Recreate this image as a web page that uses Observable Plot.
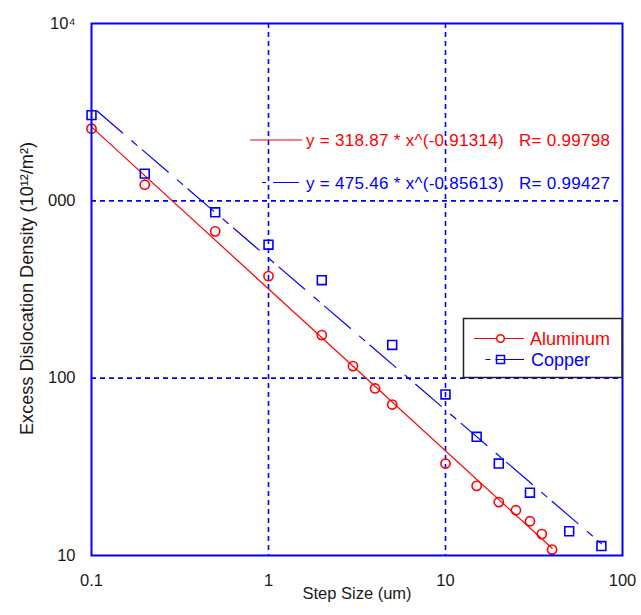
<!DOCTYPE html>
<html>
<head>
<meta charset="utf-8">
<script src="https://cdn.jsdelivr.net/npm/d3@7"></script>
<script src="https://cdn.jsdelivr.net/npm/@observablehq/plot@0.6"></script>
<style>
  html, body { margin: 0; padding: 0; background: #fff; }
  #chart { width: 641px; height: 615px; }
</style>
</head>
<body>
<div id="chart"></div>
<script>
// ---- data ----
const aluminumX = [0.1, 0.2, 0.5, 1, 2, 3, 4, 5, 10, 15, 20, 25, 30, 35, 40];
const aluminumY = [2552, 1233, 673, 376, 175, 117, 87.5, 71, 33, 24.7, 20, 18, 15.6, 13.2, 10.8];
const copperX = [0.1, 0.2, 0.5, 1, 2, 5, 10, 15, 20, 30, 50, 76];
const copperY = [3043, 1424, 862, 566, 357, 154, 81, 46.7, 33, 22.6, 13.7, 11.3];

// power-law fits shown on the chart: y = a * x^b over the data's x range
const fitNames = ["Aluminum", "Copper"];
const fitA = [318.87, 475.46];
const fitB = [-0.91314, -0.85613];
const fitR = ["0.99798", "0.99427"];
const fitXRange = [[0.1, 40], [0.1, 76]];

const xTicks = [0.1, 1, 10, 100];
const xTickLabels = ["0.1", "1", "10", "100"];
const yTicks = [10, 100, 1000, 10000];
const yTickLabels = ["10", "100", "000", "10\u2074"];
const xGrid = [1, 10];
const yGrid = [100, 1000];

const xTitle = "Step Size (um)";
const yTitle = "Excess Dislocation Density (10\u00B9\u00B2/m\u00B2)";

const RED = "#ff0000";
const BLUE = "#0000ff";
const FONT = "'Liberation Sans', Arial, Helvetica, sans-serif";

const al = aluminumX.map((x, i) => ({x, y: aluminumY[i]}));
const cu = copperX.map((x, i) => ({x, y: copperY[i]}));
const fits = fitNames.map((name, i) => fitXRange[i].map(x => ({name, x, y: fitA[i] * Math.pow(x, fitB[i])})));

const plot = Plot.plot({
  width: 641,
  height: 615,
  marginLeft: 91,
  marginRight: 19,
  marginTop: 23,
  marginBottom: 60,
  style: {fontFamily: FONT, background: "#fff", color: "#1a1a1a", overflow: "visible"},
  x: {type: "log", domain: [0.1, 100]},
  y: {type: "log", domain: [10, 10000]},
  marks: [
    Plot.ruleX(xGrid, {stroke: BLUE, strokeWidth: 1.6, strokeDasharray: "5,4"}),
    Plot.ruleY(yGrid, {stroke: BLUE, strokeWidth: 1.6, strokeDasharray: "5,4"}),
    Plot.line(fits[0], {x: "x", y: "y", stroke: RED, strokeWidth: 1.2}),
    Plot.line(fits[1], {x: "x", y: "y", stroke: BLUE, strokeWidth: 1.2, strokeDasharray: "34,12,7,7", strokeDashoffset: 53}),
    Plot.dot(al, {x: "x", y: "y", symbol: "circle", r: 4.6, stroke: RED, strokeWidth: 1.6, fill: "none"}),
    Plot.dot(cu, {x: "x", y: "y", symbol: "square", r: 5, stroke: BLUE, strokeWidth: 1.6, fill: "none"}),
    Plot.frame({stroke: BLUE, strokeWidth: 2}),
    Plot.axisX({ticks: xTicks, tickSize: 0, tickPadding: 19, fontSize: 16.5, label: null,
      tickFormat: d => xTickLabels[xTicks.indexOf(d)]}),
    Plot.axisY({ticks: yTicks, tickSize: 0, tickPadding: 16, fontSize: 16.5, label: null,
      tickFormat: d => yTickLabels[yTicks.indexOf(d)]}),
    Plot.text([xTitle], {frameAnchor: "bottom", textAnchor: "middle", dy: 43, fontSize: 16.5, fill: "#1a1a1a"})
  ]
});

const svg = d3.select(plot);

// y-axis title
svg.append("text")
  .attr("transform", "translate(27,288.5) rotate(-90)")
  .attr("text-anchor", "middle").attr("dy", "0.36em")
  .attr("font-family", FONT).attr("font-size", 17.5).attr("fill", "#1a1a1a")
  .attr("textLength", 293).attr("lengthAdjust", "spacingAndGlyphs")
  .text(yTitle);

// fit equation annotations
const ann = svg.append("g").attr("font-family", FONT).attr("font-size", 17).attr("text-anchor", "start");
const eq = [
  `y = ${fitA[0].toFixed(2)} * x^(${fitB[0]})   R= ${fitR[0]}`,
  `y = ${fitA[1].toFixed(2)} * x^(${fitB[1]})   R= ${fitR[1]}`
];
ann.append("line").attr("x1", 250).attr("x2", 302).attr("y1", 140).attr("y2", 140)
  .attr("stroke", RED).attr("stroke-width", 1.2);
ann.append("line").attr("x1", 262).attr("x2", 299).attr("y1", 182.5).attr("y2", 182.5)
  .attr("stroke", BLUE).attr("stroke-width", 1.2).attr("stroke-dasharray", "4,7,40");
ann.append("text").attr("x", 306).attr("y", 140).attr("dy", "0.36em").attr("fill", RED)
  .attr("textLength", 304).attr("lengthAdjust", "spacing")
  .attr("xml:space", "preserve").style("white-space", "pre").text(eq[0]);
ann.append("text").attr("x", 306).attr("y", 182.5).attr("dy", "0.36em").attr("fill", BLUE)
  .attr("textLength", 304).attr("lengthAdjust", "spacing")
  .attr("xml:space", "preserve").style("white-space", "pre").text(eq[1]);

// legend box
const lg = svg.append("g").attr("font-family", FONT).attr("font-size", 18).attr("text-anchor", "start");
lg.append("rect").attr("x", 463.5).attr("y", 318.5).attr("width", 158.5).attr("height", 59)
  .attr("fill", "#fff").attr("stroke", "#222").attr("stroke-width", 1.5);
// Aluminum
lg.append("line").attr("x1", 474).attr("x2", 524).attr("y1", 338.5).attr("y2", 338.5)
  .attr("stroke", RED).attr("stroke-width", 1.2);
lg.append("circle").attr("cx", 500.5).attr("cy", 338.5).attr("r", 3.8)
  .attr("fill", "#fff").attr("stroke", RED).attr("stroke-width", 1.5);
lg.append("text").attr("x", 530).attr("y", 338.5).attr("dy", "0.35em").attr("fill", RED).text(fitNames[0]);
// Copper
lg.append("line").attr("x1", 485.5).attr("x2", 524).attr("y1", 359.5).attr("y2", 359.5)
  .attr("stroke", BLUE).attr("stroke-width", 1.2).attr("stroke-dasharray", "5,5,100");
lg.append("rect").attr("x", 496.5).attr("y", 355.5).attr("width", 8).attr("height", 8)
  .attr("fill", "none").attr("stroke", BLUE).attr("stroke-width", 1.5);
lg.append("text").attr("x", 531).attr("y", 359.5).attr("dy", "0.35em").attr("fill", BLUE).text(fitNames[1]);

document.getElementById("chart").appendChild(plot);
</script>
</body>
</html>
